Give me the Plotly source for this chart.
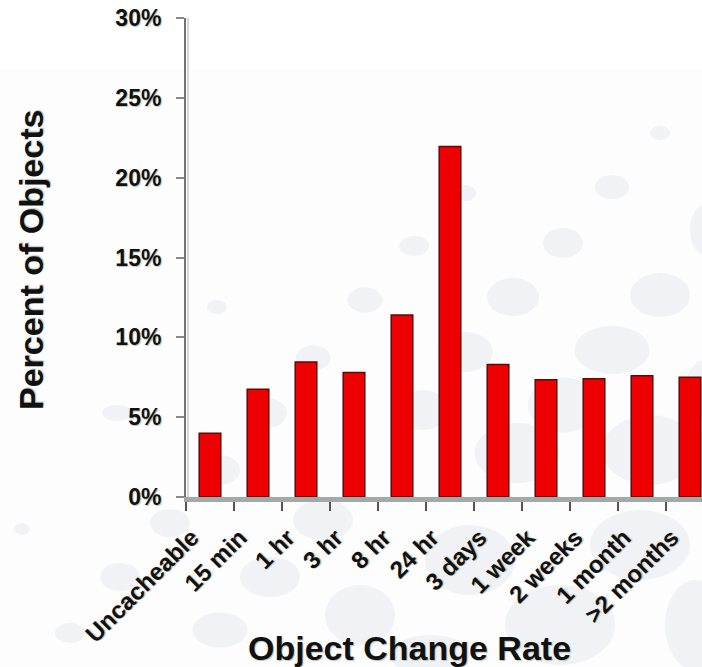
import plotly.graph_objects as go

# Share of objects by how often they change
categories = ["Uncacheable", "15 min", "1 hr", "3 hr", "8 hr", "24 hr",
              "3 days", "1 week", "2 weeks", "1 month", ">2 months"]
percent_of_objects = [4.0, 6.75, 8.45, 7.8, 11.4, 21.95, 8.3, 7.35, 7.4, 7.6, 7.5]
y_ticks = [0, 5, 10, 15, 20, 25, 30]

W, H = 702, 667
LEFT, RIGHT, TOP, BOTTOM = 186, 702, 18, 497
SLOT = 48.0  # pixels per category slot

positions = list(range(len(categories)))
# rotated labels end a little left of the bar centre
label_positions = [p - 0.38 for p in positions]
boundaries = [p - 0.5 for p in positions] + [positions[-1] + 0.5]


def px_x(x):
    return (x - LEFT) / (RIGHT - LEFT)


def px_y(y):
    return (BOTTOM - y) / (BOTTOM - TOP)


# soft grey background spots (centre x, centre y, width, height in pixels)
spots = [
    (660, 133, 20, 14), (612, 187, 34, 24), (563, 243, 40, 30), (414, 246, 30, 20),
    (465, 193, 22, 16), (513, 297, 52, 38), (660, 295, 60, 44), (365, 300, 35, 25),
    (612, 350, 75, 48), (465, 352, 55, 40), (423, 410, 50, 40), (563, 405, 70, 55),
    (517, 453, 85, 60), (650, 450, 95, 70), (705, 390, 40, 60), (705, 230, 30, 50),
    (217, 307, 20, 14), (313, 358, 35, 25), (267, 413, 40, 30), (117, 413, 30, 16),
    (220, 470, 40, 30), (22, 529, 16, 12), (170, 523, 40, 28), (120, 577, 40, 28),
    (270, 577, 60, 40), (220, 630, 55, 35), (70, 633, 30, 20), (323, 520, 60, 40),
    (360, 615, 70, 60), (470, 560, 90, 70), (560, 625, 110, 80), (640, 545, 100, 70),
    (695, 625, 60, 90), (430, 655, 80, 40),
]

shapes = [
    dict(type="rect", xref="paper", yref="paper", layer="below",
         x0=px_x(0), x1=px_x(W), y0=px_y(70), y1=px_y(0),
         fillcolor="#ffffff", line=dict(width=0)),
]
for cx, cy, w, h in spots:
    shapes.append(dict(type="circle", xref="paper", yref="paper", layer="below",
                       x0=px_x(cx - w / 2), x1=px_x(cx + w / 2),
                       y0=px_y(cy + h / 2), y1=px_y(cy - h / 2),
                       fillcolor="#f0f2f5", line=dict(width=0)))
# faint highlight beside the value axis
shapes.append(dict(type="line", xref="paper", yref="paper", layer="below",
                   x0=px_x(188), x1=px_x(188), y0=0, y1=1,
                   line=dict(color="#d3d8d4", width=2)))

shadow = "1px 1px 1px #b9c2bc"
FAMILY = "Liberation Sans, Arial, sans-serif"

fig = go.Figure(go.Bar(
    x=positions,
    y=percent_of_objects,
    width=0.45,
    marker=dict(color="#ee0000", line=dict(color="#5e0a0a", width=1.5)),
))

fig.update_layout(
    width=W, height=H,
    margin=dict(l=LEFT, r=W - RIGHT, t=TOP, b=H - BOTTOM, pad=0),
    paper_bgcolor="#fdfdfd",
    plot_bgcolor="rgba(0,0,0,0)",
    showlegend=False,
    shapes=shapes,
    xaxis=dict(
        range=[-0.5, -0.5 + (RIGHT - LEFT) / SLOT],
        showline=True, linecolor="#a2aaa7", linewidth=5,
        tickvals=label_positions, ticktext=categories, ticks="",
        tickangle=-45, ticklabelstandoff=12,
        tickfont=dict(family=FAMILY, size=24, color="#111111",
                      weight="bold", shadow=shadow),
        minor=dict(tickvals=boundaries, ticks="outside", ticklen=9,
                   tickwidth=2, tickcolor="#5a5555", showgrid=False),
        showgrid=False, zeroline=False, fixedrange=True,
    ),
    yaxis=dict(
        range=[0, 30], tickvals=y_ticks, ticktext=[f"{v}%" for v in y_ticks],
        showline=True, linecolor="#777272", linewidth=2,
        ticks="outside", ticklen=8, tickwidth=2, tickcolor="#8a8888",
        tickfont=dict(family=FAMILY, size=23, color="#111111",
                      weight="bold", shadow=shadow),
        ticklabelstandoff=10,
        showgrid=False, zeroline=False, fixedrange=True,
    ),
    annotations=[
        dict(text="Object Change Rate", xref="paper", yref="paper",
             x=px_x(409), y=px_y(648), xanchor="center", yanchor="middle",
             showarrow=False,
             font=dict(family=FAMILY, size=34, color="#111111",
                       weight="bold", shadow=shadow)),
        dict(text="Percent of Objects", xref="paper", yref="paper",
             x=px_x(31), y=px_y(260), xanchor="center", yanchor="middle",
             textangle=-90, showarrow=False,
             font=dict(family=FAMILY, size=34, color="#111111",
                       weight="bold", shadow=shadow)),
    ],
)

fig.write_html("out.html")
